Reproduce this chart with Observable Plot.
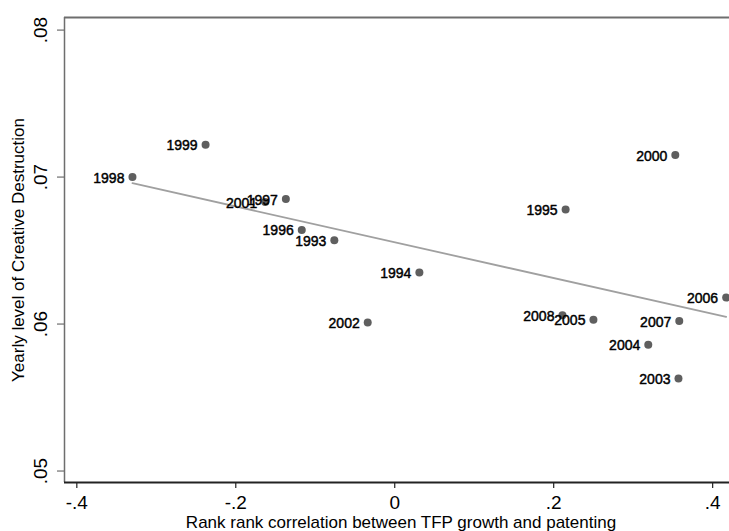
<!DOCTYPE html>
<html>
<head>
<meta charset="utf-8">
<script src="https://cdn.jsdelivr.net/npm/d3@7"></script>
<script src="https://cdn.jsdelivr.net/npm/@observablehq/plot@0.6"></script>
<style>
  html, body { margin: 0; padding: 0; background: #fff; }
  #chart svg { display: block; font-family: Arial, "Liberation Sans", sans-serif; }
</style>
</head>
<body>
<div id="chart"></div>
<script>
// Data
const years = ["1998","1999","1997","2001","1996","1993","1994","2002","1995","2000","2008","2005","2007","2004","2003","2006"];
const rankCorr = [-0.330, -0.238, -0.137, -0.163, -0.117, -0.076, 0.031, -0.034, 0.215, 0.353, 0.211, 0.250, 0.358, 0.319, 0.357, 0.417];
const creativeDestruction = [0.0700, 0.0722, 0.0685, 0.0683, 0.0664, 0.0657, 0.0635, 0.0601, 0.0678, 0.0715, 0.0606, 0.0603, 0.0602, 0.0586, 0.0563, 0.0618];

const xTicks = [-0.4, -0.2, 0, 0.2, 0.4];
const xTickLabels = ["-.4", "-.2", "0", ".2", ".4"];
const yTicks = [0.05, 0.06, 0.07, 0.08];
const yTickLabels = [".05", ".06", ".07", ".08"];

const xTitle = "Rank rank correlation between TFP growth and patenting";
const yTitle = "Yearly level of Creative Destruction";

const data = years.map((y, i) => ({year: y, x: rankCorr[i], y: creativeDestruction[i]}));
const yTickData = yTicks.map((v, i) => ({v, label: yTickLabels[i]}));

const chart = Plot.plot({
  width: 729,
  height: 531,
  marginLeft: 64,
  marginRight: 0,
  marginTop: 17,
  marginBottom: 49,
  x: {domain: [-0.4155, 0.4212]},
  y: {domain: [0.04922, 0.080857]},
  style: {fontFamily: "Arial, 'Liberation Sans', sans-serif", background: "#fff"},
  marks: [
    // top frame line
    Plot.ruleY([0.080857], {stroke: "#6e6e6e", strokeWidth: 2}),
    // left axis line
    Plot.ruleX([-0.4155], {stroke: "#6e6e6e", strokeWidth: 1.5}),
    // y ticks
    Plot.axisY({ticks: yTicks, tickSize: 7, tickFormat: () => "", label: null, stroke: "#6e6e6e", strokeWidth: 1.2}),
    Plot.text(yTickData, {y: "v", text: "label", frameAnchor: "left", dx: -24, rotate: -90, textAnchor: "middle", lineAnchor: "middle", fontSize: 19, fill: "#000"}),
    // x axis
    Plot.axisX({ticks: xTicks, tickSize: 6, tickPadding: 7, tickFormat: (d, i) => xTickLabels[i], label: null, fontSize: 19, stroke: "#222", strokeWidth: 1.2, fill: "#000"}),
    Plot.ruleY([0.04922], {stroke: "#222", strokeWidth: 1.8}),
    // titles
    Plot.text([yTitle], {frameAnchor: "left", dx: -46, rotate: -90, textAnchor: "middle", lineAnchor: "middle", fontSize: 17, fill: "#000"}),
    Plot.text([xTitle], {frameAnchor: "bottom", dy: 40, dx: 4, textAnchor: "middle", lineAnchor: "middle", fontSize: 17, fill: "#000"}),
    // fitted line
    Plot.linearRegressionY(data, {x: "x", y: "y", ci: 0, stroke: "#a0a0a0", strokeWidth: 1.8}),
    // points
    Plot.dot(data, {x: "x", y: "y", r: 4, fill: "#5f5f5f", stroke: "none"}),
    // labels
    Plot.text(data, {x: "x", y: "y", text: "year", textAnchor: "end", lineAnchor: "middle", dx: -8, dy: 1, fontSize: 14, fill: "#000", stroke: "#000", strokeWidth: 0.45})
  ]
});
document.getElementById("chart").appendChild(chart);
</script>
</body>
</html>
